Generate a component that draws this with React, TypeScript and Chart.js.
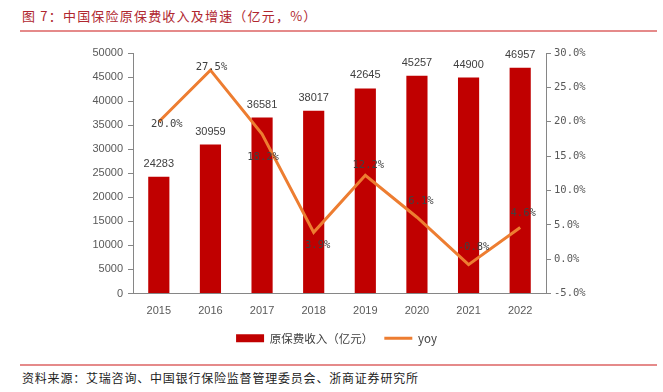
import React, { useEffect, useRef } from "react";
import { Chart, registerables } from "chart.js";

Chart.register(...registerables);

const years = ["2015", "2016", "2017", "2018", "2019", "2020", "2021", "2022"];
const premium = [24283, 30959, 36581, 38017, 42645, 45257, 44900, 46957];
const yoy = [20.0, 27.5, 18.2, 3.9, 12.2, 6.1, -0.8, 4.6];
const seriesNames = ["原保费收入（亿元）", "yoy"];
const titleText = "图 7：中国保险原保费收入及增速（亿元，%）";
const sourceText = "资料来源：艾瑞咨询、中国银行保险监督管理委员会、浙商证券研究所";

// label nudges (style only)
const yoyLabelDx = [8, 1, 1, 4, 3, 4, 5, 3];
const yoyLabelDy = [3, -3, 23, 13, -10, -16, -17, -14];

const labelPlugin = {
  id: "valueLabels",
  afterDatasetsDraw(chart: any) {
    const ctx = chart.ctx;
    ctx.save();
    const barMeta = chart.getDatasetMeta(0);
    ctx.font = '11px "Liberation Sans", Arial, sans-serif';
    ctx.fillStyle = "#404040";
    ctx.textAlign = "center";
    ctx.textBaseline = "alphabetic";
    barMeta.data.forEach((el: any, i: number) => {
      ctx.fillText(String(premium[i]), el.x, el.y - 10);
    });
    const lineMeta = chart.getDatasetMeta(1);
    ctx.font = '10.5px "DejaVu Sans Mono", monospace';
    ctx.textBaseline = "middle";
    lineMeta.data.forEach((el: any, i: number) => {
      ctx.fillText(yoy[i].toFixed(1) + "%", el.x + yoyLabelDx[i], el.y + yoyLabelDy[i]);
    });
    ctx.restore();
  },
};

export default function App() {
  const ref = useRef<HTMLCanvasElement | null>(null);

  useEffect(() => {
    if (!ref.current) return;
    const axisColor = "#868686";
    const chart = new Chart(ref.current, {
      type: "bar",
      data: {
        labels: years,
        datasets: [
          {
            type: "bar",
            label: seriesNames[0],
            data: premium,
            backgroundColor: "#C00000",
            borderWidth: 0,
            barPercentage: 0.41,
            categoryPercentage: 1,
            yAxisID: "y",
            order: 2,
          } as any,
          {
            type: "line",
            label: seriesNames[1],
            data: yoy,
            borderColor: "#ED7D31",
            backgroundColor: "#ED7D31",
            borderWidth: 3,
            pointRadius: 0,
            tension: 0,
            yAxisID: "y1",
            order: 1,
          } as any,
        ],
      },
      options: {
        animation: false,
        responsive: true,
        maintainAspectRatio: false,
        layout: { padding: { top: 17, left: 10, right: 0, bottom: 2 } },
        plugins: {
          tooltip: { enabled: false },
          legend: {
            position: "bottom",
            labels: {
              usePointStyle: true,
              pointStyleWidth: 28,
              boxHeight: 8,
              padding: 11,
              color: "#404040",
              font: { family: '"Noto Sans CJK SC", "Liberation Sans", sans-serif', size: 11.5 },
              generateLabels: (c: any) =>
                c.data.datasets.map((ds: any, i: number) => ({
                  text: ds.label,
                  fillStyle: i === 0 ? "#C00000" : "#ED7D31",
                  strokeStyle: i === 0 ? "#C00000" : "#ED7D31",
                  lineWidth: i === 0 ? 0 : 3,
                  pointStyle: i === 0 ? "rect" : "line",
                  datasetIndex: i,
                  hidden: false,
                  fontColor: "#404040",
                })),
            },
          },
        },
        scales: {
          x: {
            grid: { display: false },
            border: { display: true, color: axisColor, width: 1 },
            ticks: {
              color: "#595959",
              font: { family: '"Liberation Sans", Arial, sans-serif', size: 11 },
              padding: 3,
            },
            afterFit: (s: any) => {
              s.height = 28;
            },
          },
          y: {
            position: "left",
            min: 0,
            max: 50000,
            ticks: {
              stepSize: 5000,
              color: "#595959",
              font: { family: '"Liberation Sans", Arial, sans-serif', size: 11 },
              padding: 5,
              callback: (v: any) => String(v),
            },
            grid: { drawOnChartArea: false, drawTicks: true, tickLength: 5, color: axisColor },
            border: { display: true, color: axisColor, width: 1 },
            afterFit: (s: any) => {
              s.width = 123;
            },
          },
          y1: {
            position: "right",
            min: -5,
            max: 30,
            ticks: {
              stepSize: 5,
              color: "#595959",
              font: { family: '"DejaVu Sans Mono", monospace', size: 10.5 },
              padding: 3,
              callback: (v: any) => Number(v).toFixed(1) + "%",
            },
            grid: { drawOnChartArea: false, drawTicks: true, tickLength: 5, color: axisColor },
            border: { display: true, color: axisColor, width: 1 },
            afterFit: (s: any) => {
              s.width = 117;
            },
          },
        },
      },
      plugins: [labelPlugin],
    });
    return () => chart.destroy();
  }, []);

  return (
    <div
      style={{
        position: "fixed",
        left: 0,
        top: 0,
        width: 663,
        height: 392,
        background: "#fff",
        fontFamily: '"Noto Sans CJK SC", sans-serif',
      }}
    >
      <div
        style={{
          position: "absolute",
          left: 22,
          top: 7,
          fontSize: 13,
          lineHeight: "18px",
          color: "#B0272F",
          letterSpacing: 1.2,
          whiteSpace: "nowrap",
        }}
      >
        {titleText}
      </div>
      <div style={{ position: "absolute", left: 20, width: 637, top: 30, height: 2, background: "#E58A8A" }} />
      <div style={{ position: "absolute", left: 0, top: 36, width: 663, height: 320 }}>
        <canvas ref={ref} />
      </div>
      <div style={{ position: "absolute", left: 20, width: 637, top: 364, height: 2, background: "#E58A8A" }} />
      <div
        style={{
          position: "absolute",
          left: 22,
          top: 369,
          fontSize: 12,
          lineHeight: "17px",
          color: "#222",
          letterSpacing: 0.8,
          whiteSpace: "nowrap",
        }}
      >
        {sourceText}
      </div>
    </div>
  );
}
